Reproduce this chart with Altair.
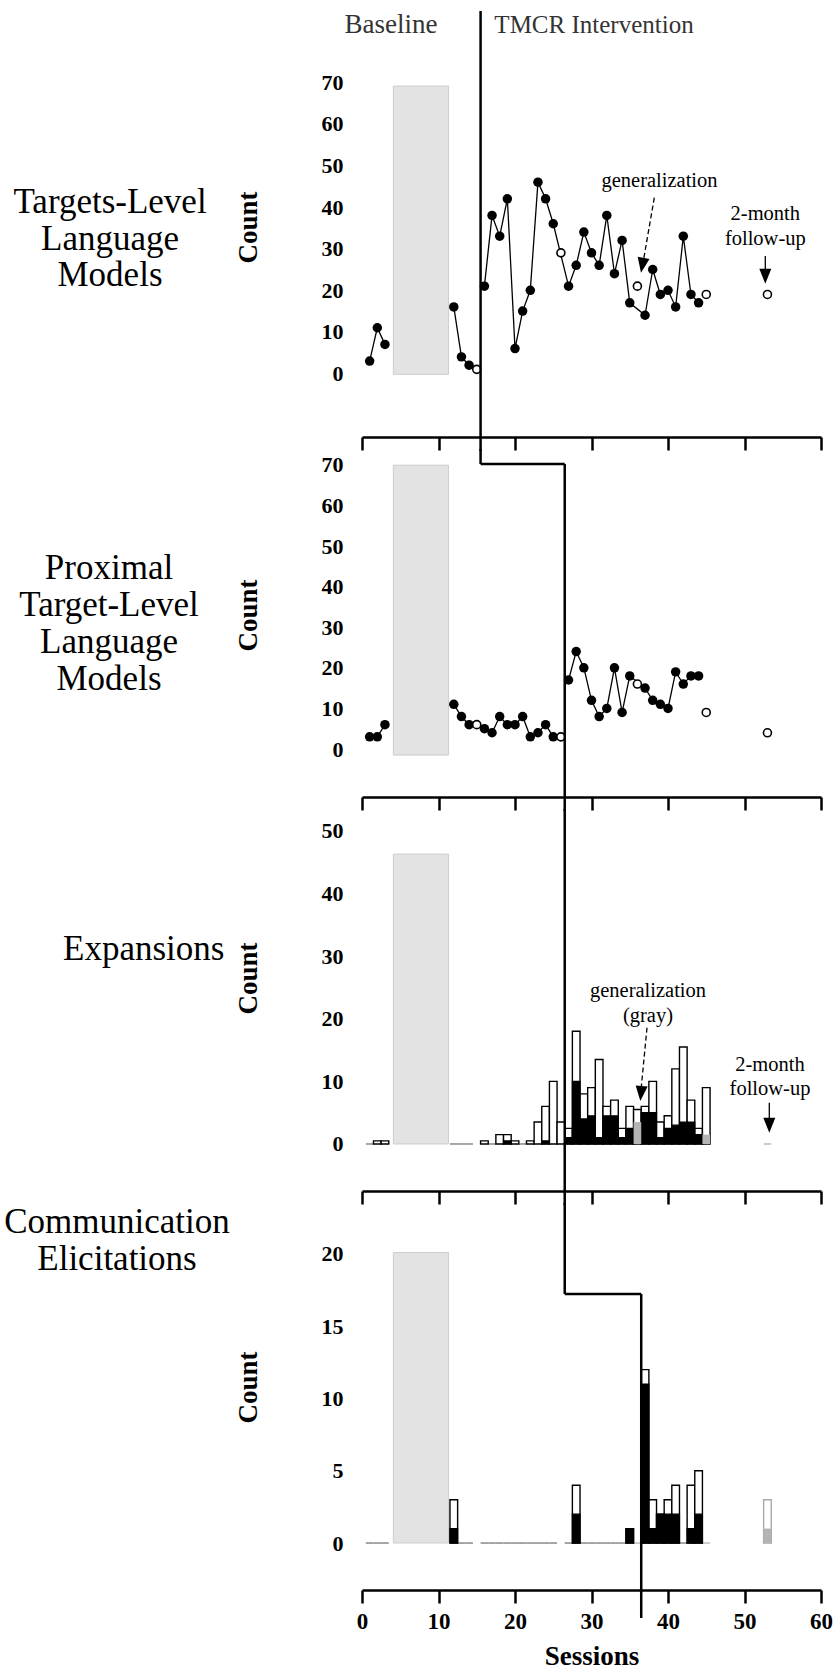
import altair as alt
import pandas as pd

FONT = "Liberation Serif"

# ---------------- data ----------------
probe_sessions = [1, 2, 3, 12, 13, 14, 16, 17, 18, 19, 20, 21, 22, 23, 24, 25,
                  27, 28, 29, 30, 31, 32, 33, 34, 35, 37, 38, 39, 40, 41, 42, 43, 44]
gen_sessions = [15, 26, 36, 45, 53]

# Targets-Level Language Models
tl_probe = [3, 11, 7, 16, 4, 2, 21, 38, 33, 42, 6, 15, 20, 46, 42, 36,
            21, 26, 34, 29, 26, 38, 24, 32, 17, 14, 25, 19, 20, 16, 33, 19, 17]
tl_gen = [1, 29, 21, 19, 19]

# Proximal Target-Level Language Models
pt_probe = [3, 3, 6, 11, 8, 6, 5, 4, 8, 6, 6, 8, 3, 4, 6, 3,
            17, 24, 20, 12, 8, 10, 20, 9, 18, 15, 12, 11, 10, 19, 16, 18, 18]
pt_gen = [6, 3, 16, 9, 4]

# Expansions (stacked: black part, gray = generalization, total height)
exp_sessions = [2, 3, 16, 18, 19, 20, 22, 23, 24, 25, 26, 27, 28, 29, 30,
                31, 32, 33, 34, 35, 36, 37, 38, 39, 40, 41, 42, 43, 44, 45]
exp_black = [0, 0, 0, 0, 0.5, 0, 0, 0, 0.5, 0, 0, 1, 10, 4, 4.5,
             1, 4.5, 4.5, 1, 2.5, 0, 5, 5, 1, 2.5, 3, 3.5, 3.5, 1.5, 0]
exp_gray = [0, 0, 0, 0, 0, 0, 0, 0, 0, 0, 0, 0, 0, 0, 0,
            0, 0, 0, 0, 0, 3.5, 0, 0, 0, 0, 0, 0, 0, 0, 1.5]
exp_total = [0.5, 0.5, 0.5, 1.5, 1.5, 0.5, 0.5, 3.5, 6, 10, 3.5, 2.5, 18, 8, 9,
             13.5, 6, 7, 2.5, 6, 5.5, 6, 10, 3.5, 4.5, 12, 15.5, 7, 2.5, 9]
exp_zero_sessions = [1, 12, 13, 14, 17, 21]
exp_zero_gen = [53]

# Communication Elicitations
ce_sessions = [12, 28, 35, 37, 38, 39, 40, 41, 43, 44, 53]
ce_black = [1, 2, 1, 11, 1, 2, 2, 2, 1, 2, 0]
ce_white = [2, 2, 0, 1, 2, 0, 1, 2, 3, 3, 2]
ce_gray = [0, 0, 0, 0, 0, 0, 0, 0, 0, 0, 1]
ce_zero_sessions = [1, 2, 3, 13, 14, 16, 17, 18, 19, 20, 21, 22, 23, 24, 25,
                    27, 29, 30, 31, 32, 33, 34, 42]
ce_zero_gen = [36, 45]

phase_changes = [15.5, 26.5, 36.5]
shade_span = [4.1, 11.3]
x_ticks = [0, 10, 20, 30, 40, 50, 60]

# ---------------- helpers ----------------
W = 459
XS = alt.Scale(domain=[0, 60], nice=False, zero=False)
ONE = pd.DataFrame({"k": [0]})
LBL = 35


def xaxis(last):
    kw = dict(values=x_ticks, labels=last, ticks=True, tickSize=13, tickWidth=2.5,
              tickColor="black", domain=True, domainColor="black", domainWidth=2.5,
              grid=False, labelOverlap=False, labelFlush=False)
    if last:
        kw.update(title="Sessions", labelFont=FONT, labelFontSize=23, labelFontWeight="bold",
                  labelColor="black", labelPadding=7, titleFont=FONT, titleFontSize=27,
                  titleFontWeight="bold", titleColor="black", titlePadding=10)
    else:
        kw["title"] = None
    return alt.Axis(**kw)


def yaxis(ticks, ty):
    return alt.Axis(values=ticks, title="Count", titleX=-114, titleY=ty, titleAlign="center",
                    titleBaseline="middle", titleAngle=270, titleFont=FONT, titleFontSize=27,
                    titleFontWeight="bold", titleColor="black", labelFont=FONT,
                    labelFontSize=22, labelFontWeight="bold", labelColor="black",
                    labelPadding=19, ticks=False, tickSize=0, domain=False, grid=False,
                    labelOverlap=False, labelFlush=False)


class Panel:
    def __init__(self, ydom, ticks, ty, last):
        self.ys = alt.Scale(domain=ydom, nice=False, zero=False)
        self.xa = xaxis(last)
        self.ya = yaxis(ticks, ty)

    def X(self, f):
        return alt.X(f, type="quantitative", scale=XS, axis=self.xa)

    def Y(self, f):
        return alt.Y(f, type="quantitative", scale=self.ys, axis=self.ya)

    def frame(self, gy):
        df = pd.DataFrame({"x0": [shade_span[0]], "x1": [shade_span[1]],
                           "y0": [gy[0]], "y1": [gy[1]]})
        return alt.Chart(df).mark_rect(fill="#e3e3e3", stroke="#cdcdcd", strokeWidth=1).encode(
            x=self.X("x0"), x2="x1", y=self.Y("y0"), y2="y1")

    def phase_v(self, p, y1, y2):
        df = pd.DataFrame({"p": [p]})
        return alt.Chart(df).mark_rule(color="black", strokeWidth=2.5).encode(
            x=self.X("p"), y=alt.value(y1), y2=alt.value(y2))

    def phase_h(self, p1, p2, y):
        df = pd.DataFrame({"p": [p1], "q": [p2]})
        return alt.Chart(df).mark_rule(color="black", strokeWidth=2.5).encode(
            x=self.X("p"), x2="q", y=alt.value(y))

    def dots(self, probe, gen, breaks):
        dp = pd.DataFrame({"s": probe_sessions, "v": probe})
        dp["seg"] = [sum(s > b for b in breaks) for s in probe_sessions]
        dg = pd.DataFrame({"s": gen_sessions, "v": gen})
        line = alt.Chart(dp).mark_line(color="black", strokeWidth=1.3).encode(
            x=self.X("s"), y=self.Y("v"), detail="seg:N", order="s:Q")
        filled = alt.Chart(dp).mark_point(filled=True, color="black", size=90, opacity=1).encode(
            x=self.X("s"), y=self.Y("v"))
        opened = alt.Chart(dg).mark_point(filled=True, fill="white", stroke="black",
                                          strokeWidth=1.6, size=64, opacity=1).encode(
            x=self.X("s"), y=self.Y("v"))
        return [line, filled, opened]

    def bars(self, df, zero_s, zero_gen):
        df = df.copy()
        df["x0"] = df["s"] - 0.5
        df["x1"] = df["s"] + 0.5
        df["zero"] = 0.0

        def zt(lst):
            z = pd.DataFrame({"s": lst})
            z["x0"] = z["s"] - 0.5
            z["x1"] = z["s"] + 0.5
            z["zero"] = 0.0
            return z

        zl = alt.Chart(zt(zero_s)).mark_rule(color="#8a8a8a", strokeWidth=1.5).encode(
            x=self.X("x0"), x2="x1", y=self.Y("zero"))
        zgl = alt.Chart(zt(zero_gen)).mark_rule(color="#bdbdbd", strokeWidth=1.5).encode(
            x=self.X("x0"), x2="x1", y=self.Y("zero"))
        outline = alt.Chart(df[df["total"] > 0]).mark_rect(fill="white", strokeWidth=1.4).encode(
            x=self.X("x0"), x2="x1", y=self.Y("zero"), y2="total",
            stroke=alt.Stroke("edge:N", scale=None))
        black = alt.Chart(df[df["black"] > 0]).mark_rect(
            fill="black", stroke="black", strokeWidth=1.2).encode(
            x=self.X("x0"), x2="x1", y=self.Y("zero"), y2="black")
        gray = alt.Chart(df[df["gray"] > 0]).mark_rect(fill="#b4b4b4").encode(
            x=self.X("x0"), x2="x1", y=self.Y("zero"), y2="gray")
        return [zl, zgl, outline, black, gray]


def text(t, x, y, size, weight="normal", color="black", lh=None, align="center"):
    kw = dict(font=FONT, fontSize=size, fontWeight=weight, color=color, align=align,
              baseline="middle", lineBreak="\n")
    if lh:
        kw["lineHeight"] = lh
    return alt.Chart(ONE).mark_text(**kw).encode(x=alt.value(x), y=alt.value(y),
                                                 text=alt.value(t))


def seg(x1, y1, x2, y2, dash=None, width=1.3):
    kw = dict(color="black", strokeWidth=width)
    if dash:
        kw["strokeDash"] = dash
    return alt.Chart(ONE).mark_rule(**kw).encode(x=alt.value(x1), y=alt.value(y1),
                                                 x2=alt.value(x2), y2=alt.value(y2))


HEAD = "M -0.8 -1 L 0.8 -1 L 0 1 Z"


def head(x, y, angle=0):
    return alt.Chart(ONE).mark_point(shape=HEAD, size=225, filled=True, color="black",
                                     angle=angle, opacity=1).encode(x=alt.value(x), y=alt.value(y))


# ---------------- panel 1 ----------------
P1 = Panel([-15.26, 70.31], [0, 10, 20, 30, 40, 50, 60, 70], 146, False)
anchor = alt.Chart(ONE).mark_point(size=1, opacity=0).encode(x=alt.value(-361), y=alt.value(-80))
p1 = alt.layer(
    anchor,
    P1.frame([-0.2, 69.1]),
    *P1.dots(tl_probe, tl_gen, [3.5, 15.5]),
    P1.phase_v(phase_changes[0], -70, 370),
    text("Baseline", 29, -56, 27, color="#333333"),
    text("TMCR Intervention", 232, -56, 25, color="#333333"),
    text("Targets-Level\nLanguage\nModels", -252, 121, LBL, lh=36.5),
    text("generalization", 297.5, 100, 20.5),
    seg(292.3, 116.7, 280.6, 184.3, dash=[5, 3]),
    head(280.3, 184.3, 10),
    text("2-month\nfollow-up", 403.3, 133, 20.5, lh=25),
    seg(403.3, 175, 403.3, 192),
    head(403.3, 195.2),
).properties(width=W, height=356)

# ---------------- panel 2 ----------------
P2 = Panel([-11.82, 73.40], [0, 10, 20, 30, 40, 50, 60, 70], 164, False)
p2 = alt.layer(
    P2.frame([-1.5, 69.9]),
    *P2.dots(pt_probe, pt_gen, [3.5, 26.5]),
    P2.phase_v(phase_changes[0], -2, 13),
    P2.phase_h(phase_changes[0], phase_changes[1], 13),
    P2.phase_v(phase_changes[1], 13, 360),
    text("Proximal\nTarget-Level\nLanguage\nModels", -253, 117, LBL, lh=37),
).properties(width=W, height=346)

# ---------------- panel 3 ----------------
P3 = Panel([-7.51, 53.19], [0, 10, 20, 30, 40, 50], 167, False)
exp_df = pd.DataFrame({"s": exp_sessions, "black": exp_black, "gray": exp_gray,
                       "total": exp_total, "edge": ["black"] * len(exp_sessions)})
p3 = alt.layer(
    P3.frame([0, 46.3]),
    *P3.bars(exp_df, exp_zero_sessions, exp_zero_gen),
    P3.phase_v(phase_changes[1], -2, 394),
    text("Expansions", -299, 138, LBL, align="left"),
    text("generalization\n(gray)", 286, 180, 20.5, lh=25),
    seg(285, 216.7, 279, 279, dash=[5, 3]),
    head(279, 282.5, 5),
    text("2-month\nfollow-up", 408, 254, 20.5, lh=24),
    seg(407.3, 291.7, 407.3, 311),
    head(407.3, 314.2),
).properties(width=W, height=380)

# ---------------- panel 4 ----------------
P4 = Panel([-3.25, 23.39], [0, 5, 10, 15, 20], 182, True)
ce_df = pd.DataFrame({"s": ce_sessions, "black": ce_black, "gray": ce_gray})
ce_df["total"] = [b + w + g for b, w, g in zip(ce_black, ce_white, ce_gray)]
ce_df["edge"] = ["#a8a8a8" if g > 0 else "black" for g in ce_gray]
p4 = alt.layer(
    P4.frame([0, 20.1]),
    *P4.bars(ce_df, ce_zero_sessions, ce_zero_gen),
    P4.phase_v(phase_changes[1], -2, 89),
    P4.phase_h(phase_changes[1], phase_changes[2], 89),
    P4.phase_v(phase_changes[2], 89, 413),
    text("Communication\nElicitations", -245, 17, LBL, lh=37),
).properties(width=W, height=385)

chart = alt.vconcat(p1, p2, p3, p4, spacing=14, bounds="flush").properties(
    padding=0, background="white"
).configure(font=FONT).configure_view(stroke=None)

chart.save("out.html", embed_options={"renderer": "svg", "actions": False})
